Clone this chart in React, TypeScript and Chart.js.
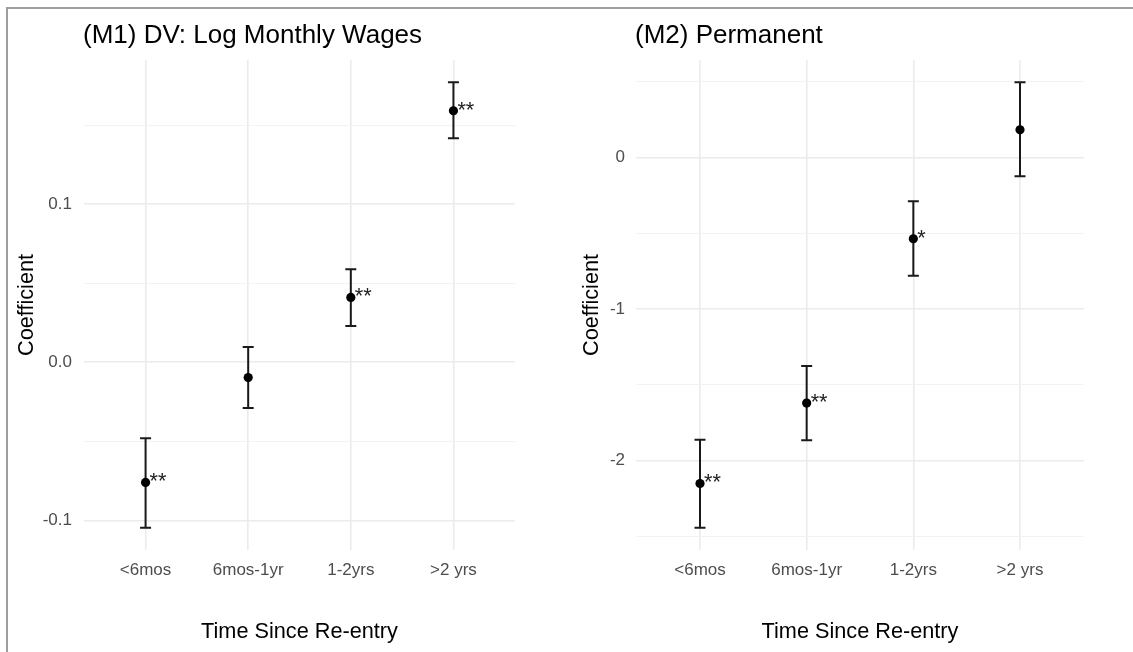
import React, { useEffect, useRef } from 'react';
import { Chart, registerables } from 'chart.js';

Chart.register(...registerables);

const FONT = "'Liberation Sans', Arial, Helvetica, sans-serif";

const categories = ['<6mos', '6mos-1yr', '1-2yrs', '>2 yrs'];

const m1Coef = [-0.076, -0.0097, 0.041, 0.159];
const m1Lower = [-0.1046, -0.029, 0.0229, 0.1416];
const m1Upper = [-0.0481, 0.0097, 0.0588, 0.177];
const m1Stars = ['**', '', '**', '**'];
const m1MajorTicks = [-0.1, 0, 0.1];
const m1MinorTicks = [-0.05, 0.05, 0.15];
const m1TickLabels = ['-0.1', '0.0', '0.1'];

const m2Coef = [-2.151, -1.62, -0.535, 0.184];
const m2Lower = [-2.443, -1.866, -0.78, -0.123];
const m2Upper = [-1.862, -1.376, -0.287, 0.498];
const m2Stars = ['**', '**', '*', ''];
const m2MajorTicks = [-2, -1, 0];
const m2MinorTicks = [-2.5, -1.5, -0.5, 0.5];
const m2TickLabels = ['-2', '-1', '0'];

type PanelProps = {
  title: string;
  coef: number[];
  lower: number[];
  upper: number[];
  stars: string[];
  yMin: number;
  yMax: number;
  major: number[];
  minor: number[];
  majorLabels: string[];
  left: number;
  width: number;
  height: number;
  plotLeft: number;
  plotRight: number;
  plotTop: number;
  plotBottom: number;
  yTitlePad: number;
  yTickPad: number;
};

function Panel(p: PanelProps) {
  const ref = useRef<HTMLCanvasElement | null>(null);
  useEffect(() => {
    if (!ref.current) return;
    const isMajor = (v: number) => p.major.some((m) => Math.abs(m - v) < 1e-9);
    const allTicks = [...p.major, ...p.minor].sort((a, b) => a - b);

    const overlay = {
      id: 'overlay',
      beforeDatasetsDraw(chart: any) {
        const ctx = chart.ctx;
        const xs = chart.scales.x;
        const ys = chart.scales.y;
        ctx.save();
        ctx.strokeStyle = '#1a1a1a';
        ctx.lineWidth = 2;
        for (let i = 0; i < p.coef.length; i++) {
          const x = xs.getPixelForValue(i + 1);
          const yl = ys.getPixelForValue(p.lower[i]);
          const yu = ys.getPixelForValue(p.upper[i]);
          ctx.beginPath();
          ctx.moveTo(x, yl);
          ctx.lineTo(x, yu);
          ctx.moveTo(x - 5.5, yl);
          ctx.lineTo(x + 5.5, yl);
          ctx.moveTo(x - 5.5, yu);
          ctx.lineTo(x + 5.5, yu);
          ctx.stroke();
        }
        ctx.restore();
      },
      afterDatasetsDraw(chart: any) {
        const ctx = chart.ctx;
        const xs = chart.scales.x;
        const ys = chart.scales.y;
        ctx.save();
        ctx.fillStyle = '#222';
        ctx.font = `21.7px ${FONT}`;
        ctx.textAlign = 'left';
        ctx.textBaseline = 'middle';
        for (let i = 0; i < p.coef.length; i++) {
          if (!p.stars[i]) continue;
          const x = xs.getPixelForValue(i + 1);
          const y = ys.getPixelForValue(p.coef[i]);
          ctx.fillText(p.stars[i], x + 4, y);
        }
        ctx.restore();
      },
      afterDraw(chart: any) {
        const ctx = chart.ctx;
        ctx.save();
        ctx.fillStyle = '#000';
        ctx.font = `26px ${FONT}`;
        ctx.textAlign = 'left';
        ctx.textBaseline = 'alphabetic';
        ctx.fillText(p.title, chart.chartArea.left - 1, 42.5);
        ctx.restore();
      },
    };

    const chart = new Chart(ref.current, {
      type: 'scatter',
      data: {
        datasets: [
          {
            data: p.coef.map((v, i) => ({ x: i + 1, y: v })),
            pointRadius: 4.6,
            pointHoverRadius: 4.6,
            pointBackgroundColor: '#000',
            pointBorderColor: '#000',
            pointBorderWidth: 0,
            showLine: false,
          },
        ],
      },
      options: {
        animation: false,
        responsive: false,
        devicePixelRatio: 1,
        layout: {
          padding: { left: 0, top: p.plotTop, right: p.width - p.plotRight, bottom: 0 },
        },
        plugins: {
          legend: { display: false },
          tooltip: { enabled: false },
          title: { display: false },
        },
        scales: {
          x: {
            type: 'linear',
            position: 'bottom',
            min: 0.4,
            max: 4.6,
            afterBuildTicks: (s: any) => {
              s.ticks = [1, 2, 3, 4].map((v) => ({ value: v }));
            },
            afterFit: (s: any) => {
              s.height = p.height - p.plotBottom;
            },
            ticks: {
              callback: (v: any) => categories[Math.round(Number(v)) - 1] ?? '',
              color: '#4d4d4d',
              font: { family: FONT, size: 17 },
              padding: 10,
              autoSkip: false,
              maxRotation: 0,
            },
            grid: { color: '#ebebeb', lineWidth: 1.6, drawTicks: false },
            border: { display: false },
            title: {
              display: true,
              text: 'Time Since Re-entry',
              color: '#000',
              font: { family: FONT, size: 21.7 },
              padding: { top: 0, bottom: 7 },
            },
          },
          y: {
            type: 'linear',
            position: 'left',
            min: p.yMin,
            max: p.yMax,
            afterBuildTicks: (s: any) => {
              s.ticks = allTicks.map((v) => ({ value: v }));
            },
            afterFit: (s: any) => {
              s.width = p.plotLeft;
            },
            ticks: {
              callback: (v: any) => {
                const idx = p.major.findIndex((m) => Math.abs(m - Number(v)) < 1e-9);
                return idx >= 0 ? p.majorLabels[idx] : '';
              },
              color: '#4d4d4d',
              font: { family: FONT, size: 17 },
              padding: p.yTickPad,
              autoSkip: false,
            },
            grid: {
              color: (c: any) => (isMajor(c.tick.value) ? '#ebebeb' : '#f3f3f3'),
              lineWidth: (c: any) => (isMajor(c.tick.value) ? 1.6 : 1),
              drawTicks: false,
            },
            border: { display: false },
            title: {
              display: true,
              text: 'Coefficient',
              color: '#000',
              font: { family: FONT, size: 21.7 },
              padding: { top: p.yTitlePad, bottom: 0 },
            },
          },
        },
      } as any,
      plugins: [overlay],
    });
    return () => chart.destroy();
  }, []);

  return (
    <canvas
      ref={ref}
      width={p.width}
      height={p.height}
      style={{ position: 'absolute', left: p.left, top: 0, width: p.width, height: p.height }}
    />
  );
}

export default function App() {
  return (
    <div
      style={{
        position: 'fixed',
        left: 0,
        top: 0,
        width: 1133,
        height: 652,
        background: '#fff',
        overflow: 'hidden',
      }}
    >
      <div
        style={{
          position: 'absolute',
          left: 6,
          top: 7,
          width: 1133,
          height: 652,
          borderLeft: '2.5px solid #9e9e9e',
          borderTop: '2.5px solid #9e9e9e',
        }}
      />
      <Panel
        title="(M1) DV: Log Monthly Wages"
        coef={m1Coef}
        lower={m1Lower}
        upper={m1Upper}
        stars={m1Stars}
        yMin={-0.1187}
        yMax={0.1911}
        major={m1MajorTicks}
        minor={m1MinorTicks}
        majorLabels={m1TickLabels}
        left={9}
        width={557}
        height={652}
        plotLeft={75}
        plotRight={506}
        plotTop={60}
        plotBottom={550}
        yTitlePad={5}
        yTickPad={12}
      />
      <Panel
        title="(M2) Permanent"
        coef={m2Coef}
        lower={m2Lower}
        upper={m2Upper}
        stars={m2Stars}
        yMin={-2.59}
        yMax={0.645}
        major={m2MajorTicks}
        minor={m2MinorTicks}
        majorLabels={m2TickLabels}
        left={566}
        width={567}
        height={652}
        plotLeft={70}
        plotRight={518}
        plotTop={60}
        plotBottom={550}
        yTitlePad={12.7}
        yTickPad={11}
      />
    </div>
  );
}
